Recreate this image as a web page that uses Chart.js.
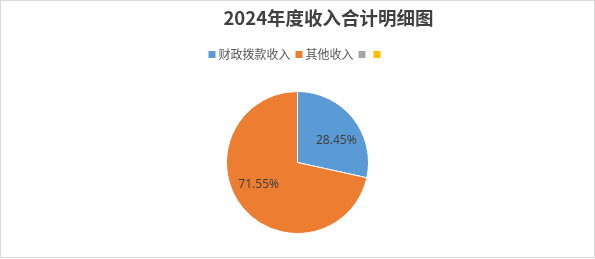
<!DOCTYPE html>
<html>
<head>
<meta charset="utf-8">
<script src="https://cdn.jsdelivr.net/npm/chart.js@4/dist/chart.umd.min.js"></script>
<style>
  body { margin: 0; background: #fff; }
  #wrap { position: relative; width: 595px; height: 259px; }
  #frame { position: absolute; left: 0; top: 0; width: 595px; height: 258px; box-sizing: border-box; border: 1px solid #d9d9d9; pointer-events: none; }
</style>
</head>
<body>
<div id="wrap">
  <canvas id="grafico"></canvas>
  <div id="frame"></div>
</div>
<script>
// dados do gráfico
const titulo = "2024年度收入合计明细图";
const categorias = ["财政拨款收入", "其他收入", "", ""];
const valores = [28.45, 71.55, 0, 0];
const cores = ["#5B9BD5", "#ED7D31", "#A5A5A5", "#FFC000"];

// rótulos de porcentagem dentro das fatias
const rotulos = {
  id: "rotulos",
  afterDatasetsDraw(chart) {
    const ctx = chart.ctx;
    const meta = chart.getDatasetMeta(0);
    ctx.save();
    ctx.font = "12px 'Noto Sans'";
    ctx.fillStyle = "#404040";
    ctx.textAlign = "center";
    ctx.textBaseline = "middle";
    meta.data.forEach((arc, i) => {
      const v = valores[i];
      if (!v) return;
      const p = arc.getProps(["x", "y", "startAngle", "endAngle", "outerRadius"], true);
      const ang = (p.startAngle + p.endAngle) / 2 + 0.157;
      const r = p.outerRadius * 0.63;
      ctx.fillText(v.toFixed(2) + "%", p.x + Math.cos(ang) * r, p.y + Math.sin(ang) * r);
    });
    ctx.restore();
  }
};

// espaço extra abaixo da legenda + título deslocado
const ajustes = {
  id: "ajustes",
  beforeInit(chart) {
    const fit = chart.legend.fit;
    chart.legend.fit = function () {
      fit.call(this);
      this.height += 20.5;
    };
  },
  afterLayout(chart) {
    chart.titleBlock.left += 31;
    chart.titleBlock.right += 31;
  }
};

const defaultLabels = Chart.overrides.pie.plugins.legend.labels.generateLabels;

new Chart(document.getElementById("grafico"), {
  type: "pie",
  data: {
    labels: categorias,
    datasets: [{
      data: valores,
      backgroundColor: cores,
      borderColor: "#ffffff",
      borderWidth: [1, 1, 0, 0]
    }]
  },
  options: {
    responsive: true,
    maintainAspectRatio: false,
    animation: false,
    layout: { padding: { top: 0, bottom: 25, left: 0, right: 0 } },
    plugins: {
      title: {
        display: true,
        text: titulo,
        color: "#404040",
        font: { family: "'Noto Sans CJK SC'", size: 18.5, weight: "bold" },
        padding: { top: 7, bottom: 11.3 }
      },
      legend: {
        position: "top",
        labels: {
          usePointStyle: true,
          pointStyle: "rect",
          boxWidth: 1,
          boxHeight: 7,
          padding: 8,
          color: "#595959",
          font: { family: "'Noto Sans CJK SC'", size: 12 },
          generateLabels(chart) {
            return defaultLabels(chart).map(l => Object.assign(l, { lineWidth: 0 }));
          }
        }
      },
      tooltip: { enabled: false }
    }
  },
  plugins: [rotulos, ajustes]
});
</script>
</body>
</html>
